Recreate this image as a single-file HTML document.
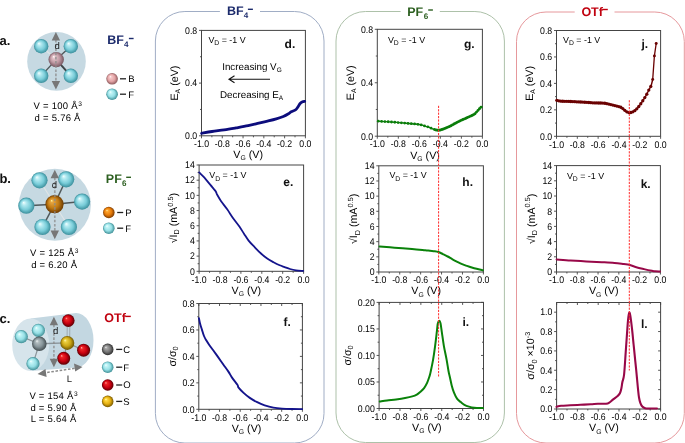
<!DOCTYPE html>
<html><head><meta charset="utf-8"><title>figure</title>
<style>html,body{margin:0;padding:0;background:#fff;overflow:hidden}svg{display:block;font-family:"Liberation Sans", sans-serif;-webkit-font-smoothing:antialiased;will-change:transform;text-rendering:geometricPrecision}</style>
</head><body>
<svg width="685" height="443" viewBox="0 0 685 443">
<defs><radialGradient id="gF" cx="0.5" cy="0.5" r="0.5" fx="0.33" fy="0.3"><stop offset="0" stop-color="#f4ffff"/><stop offset="0.25" stop-color="#b4eaf1"/><stop offset="0.65" stop-color="#78ccd8"/><stop offset="1" stop-color="#3a8e9b"/></radialGradient><radialGradient id="gFl" cx="0.5" cy="0.5" r="0.5" fx="0.33" fy="0.3"><stop offset="0" stop-color="#ffffff"/><stop offset="0.18" stop-color="#c6f6f8"/><stop offset="0.62" stop-color="#95dfe5"/><stop offset="1" stop-color="#3f8f96"/></radialGradient><radialGradient id="gB" cx="0.5" cy="0.5" r="0.5" fx="0.33" fy="0.3"><stop offset="0" stop-color="#fff8fa"/><stop offset="0.2" stop-color="#e4c4ca"/><stop offset="0.6" stop-color="#be98a2"/><stop offset="1" stop-color="#765660"/></radialGradient><radialGradient id="gBl" cx="0.5" cy="0.5" r="0.5" fx="0.33" fy="0.3"><stop offset="0" stop-color="#ffffff"/><stop offset="0.18" stop-color="#f6caca"/><stop offset="0.62" stop-color="#e3a3a5"/><stop offset="1" stop-color="#8d5a5c"/></radialGradient><radialGradient id="gP" cx="0.5" cy="0.5" r="0.5" fx="0.33" fy="0.3"><stop offset="0" stop-color="#fff6a0"/><stop offset="0.15" stop-color="#e6a640"/><stop offset="0.6" stop-color="#c27a12"/><stop offset="1" stop-color="#6e3c02"/></radialGradient><radialGradient id="gPl" cx="0.5" cy="0.5" r="0.5" fx="0.33" fy="0.3"><stop offset="0" stop-color="#fff2b0"/><stop offset="0.18" stop-color="#ffa830"/><stop offset="0.62" stop-color="#e67a08"/><stop offset="1" stop-color="#7a3a00"/></radialGradient><radialGradient id="gC" cx="0.5" cy="0.5" r="0.5" fx="0.33" fy="0.3"><stop offset="0" stop-color="#f4f8f8"/><stop offset="0.2" stop-color="#b2bcbf"/><stop offset="0.6" stop-color="#87959a"/><stop offset="1" stop-color="#434c4f"/></radialGradient><radialGradient id="gCl" cx="0.5" cy="0.5" r="0.5" fx="0.33" fy="0.3"><stop offset="0" stop-color="#f0f0f0"/><stop offset="0.2" stop-color="#a8a8a8"/><stop offset="0.62" stop-color="#767676"/><stop offset="1" stop-color="#2e2e2e"/></radialGradient><radialGradient id="gO" cx="0.5" cy="0.5" r="0.5" fx="0.33" fy="0.3"><stop offset="0" stop-color="#ffb8b8"/><stop offset="0.18" stop-color="#f02828"/><stop offset="0.62" stop-color="#c80010"/><stop offset="1" stop-color="#5a0004"/></radialGradient><radialGradient id="gS" cx="0.5" cy="0.5" r="0.5" fx="0.33" fy="0.3"><stop offset="0" stop-color="#fffbc0"/><stop offset="0.2" stop-color="#ecd040"/><stop offset="0.62" stop-color="#caa514"/><stop offset="1" stop-color="#6e5600"/></radialGradient><radialGradient id="gSl" cx="0.5" cy="0.5" r="0.5" fx="0.33" fy="0.3"><stop offset="0" stop-color="#fffbd0"/><stop offset="0.2" stop-color="#ffd840"/><stop offset="0.62" stop-color="#e4ae10"/><stop offset="1" stop-color="#7a5a00"/></radialGradient></defs>
<rect width="685" height="443" fill="#fff"/>
<path d="M219.9 11.5 H184.9 A29.5 29.5 0 0 0 155.4 41 V413.5 A29.5 29.5 0 0 0 184.9 443 H294.5 A29.5 29.5 0 0 0 324 413.5 V41 A29.5 29.5 0 0 0 294.5 11.5 H260" fill="none" stroke="#a0adc5" stroke-width="1"/>
<path d="M400.6 11.5 H365.5 A29.5 29.5 0 0 0 336 41 V413 A29.5 29.5 0 0 0 365.5 442.5 H474.9 A29.5 29.5 0 0 0 504.4 413 V41 A29.5 29.5 0 0 0 474.9 11.5 H439.8" fill="none" stroke="#adc1a9" stroke-width="1"/>
<path d="M574.7 12 H546 A29.5 29.5 0 0 0 516.5 41.5 V413.5 A29.5 29.5 0 0 0 546 443 H654.8 A29.5 29.5 0 0 0 684.3 413.5 V41.5 A29.5 29.5 0 0 0 654.8 12 H614.5" fill="none" stroke="#e6989c" stroke-width="1"/>
<text x="226.9" y="15.4" font-size="12.5" font-weight="bold" fill="#1c2b6c">BF</text><text x="243.7" y="18.1" font-size="8.1" font-weight="bold" fill="#1c2b6c">4</text><rect x="247.9" y="8.6" width="5" height="1.4" fill="#1c2b6c"/>
<text x="407.2" y="16" font-size="12.5" font-weight="bold" fill="#2c5f20">PF</text><text x="423.7" y="19.2" font-size="8.1" font-weight="bold" fill="#2c5f20">6</text><rect x="428.2" y="9.3" width="4.7" height="1.4" fill="#2c5f20"/>
<text x="581.4" y="15.7" font-size="12.5" font-weight="bold" fill="#c0000e">OTf</text><rect x="602.2" y="8.8" width="5.6" height="1.4" fill="#c0000e"/>
<circle cx="56.5" cy="61.4" r="29.3" fill="#c6d9e2"/>
<line x1="56.2" y1="59.6" x2="41.2" y2="46.2" stroke="#dfe4e6" stroke-width="1.4"/>
<line x1="56.2" y1="59.6" x2="70.8" y2="46.2" stroke="#4f5759" stroke-width="1.3"/>
<line x1="56.2" y1="59.6" x2="41.2" y2="75.8" stroke="#4f5759" stroke-width="1.3"/>
<line x1="56.2" y1="59.6" x2="70.8" y2="75.8" stroke="#3e4547" stroke-width="2.0"/>
<circle cx="41.2" cy="46.2" r="7.2" fill="url(#gF)"/>
<circle cx="70.8" cy="46.2" r="7.2" fill="url(#gF)"/>
<circle cx="56.2" cy="59.6" r="7.7" fill="url(#gB)"/>
<circle cx="41.2" cy="75.8" r="7.2" fill="url(#gF)"/>
<circle cx="70.8" cy="75.8" r="7.2" fill="url(#gF)"/>
<line x1="55.9" y1="40" x2="55.9" y2="81.5" stroke="#8c8c8c" stroke-width="1.7" stroke-dasharray="2.6 1.6" opacity="0.75"/><path d="M55.9 32L51.7 40.6L60.1 40.6Z M55.9 89.5L51.7 80.9L60.1 80.9Z" fill="#777"/>
<text x="54.6" y="49.4" font-size="9.6" fill="#1a1a1a">d</text>
<circle cx="54.9" cy="204.7" r="36" fill="#c6d9e2"/>
<line x1="54.5" y1="204.2" x2="39.5" y2="180.3" stroke="#dfe4e6" stroke-width="1.2"/>
<line x1="54.5" y1="204.2" x2="66.2" y2="179.3" stroke="#4f5759" stroke-width="1.5"/>
<line x1="54.5" y1="204.2" x2="26.3" y2="205.7" stroke="#4f5759" stroke-width="1.5"/>
<line x1="54.5" y1="204.2" x2="82.1" y2="201.6" stroke="#4f5759" stroke-width="1.5"/>
<line x1="54.5" y1="204.2" x2="42.5" y2="227" stroke="#4f5759" stroke-width="1.5"/>
<line x1="54.5" y1="204.2" x2="68.9" y2="227" stroke="#dfe4e6" stroke-width="1.2"/>
<circle cx="39.5" cy="180.3" r="8.1" fill="url(#gF)"/>
<circle cx="66.2" cy="179.3" r="8.1" fill="url(#gF)"/>
<circle cx="26.3" cy="205.7" r="8.1" fill="url(#gF)"/>
<circle cx="82.1" cy="201.6" r="8.1" fill="url(#gF)"/>
<circle cx="42.5" cy="227" r="8.1" fill="url(#gF)"/>
<circle cx="68.9" cy="227" r="8.1" fill="url(#gF)"/>
<circle cx="54.5" cy="204.2" r="9.1" fill="url(#gP)"/>
<line x1="54.8" y1="177.7" x2="54.8" y2="231.2" stroke="#8c8c8c" stroke-width="1.7" stroke-dasharray="2.6 1.6" opacity="0.75"/><path d="M54.8 169.7L50.6 178.3L59 178.3Z M54.8 239.2L50.6 230.6L59 230.6Z" fill="#777"/>
<text x="51.8" y="187.7" font-size="9.6" fill="#1a1a1a">d</text>
<path d="M30.7 318.5 L76 313 A17.5 27.3 0 0 1 76 367.6 L30.7 370.9 Z" fill="#c3d7e1"/>
<ellipse cx="30.7" cy="344.7" rx="18.5" ry="26.2" fill="#d6e4eb"/>
<line x1="39.3" y1="343.8" x2="38.4" y2="330.3" stroke="#8a9499" stroke-width="1.2"/>
<line x1="39.3" y1="343.8" x2="21.3" y2="336.6" stroke="#8a9499" stroke-width="1.2"/>
<line x1="39.3" y1="343.8" x2="33" y2="363.7" stroke="#8a9499" stroke-width="1.2"/>
<line x1="39.3" y1="343.8" x2="67.3" y2="342.9" stroke="#8a9499" stroke-width="1.4"/>
<line x1="67" y1="342.9" x2="67.3" y2="320.6" stroke="#9aa4a8" stroke-width="0.9"/>
<line x1="69.6" y1="342.9" x2="69.9" y2="320.6" stroke="#9aa4a8" stroke-width="0.9"/>
<line x1="67.3" y1="342.9" x2="83.6" y2="350.2" stroke="#8a9499" stroke-width="1.2"/>
<line x1="67.3" y1="342.9" x2="63.7" y2="358.3" stroke="#8a9499" stroke-width="1.2"/>
<circle cx="68.3" cy="320.6" r="6.3" fill="url(#gO)"/>
<circle cx="38.4" cy="330.3" r="6.6" fill="url(#gFl)"/>
<circle cx="21.3" cy="336.6" r="6.6" fill="url(#gFl)"/>
<circle cx="39.3" cy="343.8" r="7.3" fill="url(#gC)"/>
<circle cx="67.3" cy="342.9" r="7" fill="url(#gS)"/>
<circle cx="83.6" cy="350.2" r="6.5" fill="url(#gO)"/>
<circle cx="63.7" cy="358.3" r="6.5" fill="url(#gO)"/>
<circle cx="33" cy="363.7" r="6.6" fill="url(#gFl)"/>
<line x1="53.9" y1="324.7" x2="53.9" y2="359.3" stroke="#8c8c8c" stroke-width="1.7" stroke-dasharray="2.6 1.6" opacity="0.75"/><path d="M53.9 316.7L49.7 325.3L58.1 325.3Z M53.9 367.3L49.7 358.7L58.1 358.7Z" fill="#777"/>
<text x="53.0" y="333.7" font-size="9.6" fill="#1a1a1a">d</text>
<line x1="43" y1="373" x2="77" y2="368" stroke="#8c8c8c" stroke-width="1.5" stroke-dasharray="2.6 1.6"/>
<path d="M37.5 374 L45.5 369 L46.6 377 Z M82.5 367 L74 363.6 L75.2 371.6 Z" fill="#777"/>
<text x="69.3" y="381.8" font-size="9.5" fill="#1a1a1a" text-anchor="middle">L</text>
<g font-size="13" font-weight="bold" fill="#111"><text x="-0.6" y="44.5">a.</text><text x="-0.6" y="182.9">b.</text><text x="-0.6" y="322.5">c.</text></g>
<text x="107.3" y="44.3" font-size="12.5" font-weight="bold" fill="#1c2b6c">BF</text><text x="124" y="47.2" font-size="8.1" font-weight="bold" fill="#1c2b6c">4</text><rect x="128.9" y="37.8" width="4.7" height="1.4" fill="#1c2b6c"/>
<text x="105.8" y="182.8" font-size="12.5" font-weight="bold" fill="#2c5f20">PF</text><text x="121.9" y="186" font-size="8.1" font-weight="bold" fill="#2c5f20">6</text><rect x="126.2" y="176.6" width="4.8" height="1.4" fill="#2c5f20"/>
<text x="104.3" y="322.4" font-size="12.5" font-weight="bold" fill="#c0000e">OTf</text><rect x="125.3" y="315.7" width="5.5" height="1.4" fill="#c0000e"/>
<circle cx="112.1" cy="78.8" r="5.8" fill="url(#gBl)"/><line x1="120" y1="78.8" x2="126" y2="78.8" stroke="#222" stroke-width="1.3"/><text x="128.2" y="82.2" font-size="9.5" fill="#000">B</text>
<circle cx="112.1" cy="94.2" r="5.8" fill="url(#gFl)"/><line x1="120" y1="94.2" x2="126" y2="94.2" stroke="#222" stroke-width="1.3"/><text x="128.2" y="97.6" font-size="9.5" fill="#000">F</text>
<circle cx="108.8" cy="212.5" r="5.8" fill="url(#gPl)"/><line x1="117.2" y1="212.5" x2="123.2" y2="212.5" stroke="#222" stroke-width="1.3"/><text x="125.2" y="215.9" font-size="9.5" fill="#000">P</text>
<circle cx="108.8" cy="228.2" r="5.8" fill="url(#gFl)"/><line x1="117.2" y1="228.2" x2="123.2" y2="228.2" stroke="#222" stroke-width="1.3"/><text x="125.2" y="231.6" font-size="9.5" fill="#000">F</text>
<circle cx="107.7" cy="349.4" r="5.8" fill="url(#gCl)"/><line x1="116.2" y1="349.4" x2="122.2" y2="349.4" stroke="#222" stroke-width="1.3"/><text x="123.3" y="352.8" font-size="9.5" fill="#000">C</text>
<circle cx="107.7" cy="367.2" r="5.8" fill="url(#gFl)"/><line x1="116.2" y1="367.2" x2="122.2" y2="367.2" stroke="#222" stroke-width="1.3"/><text x="123.3" y="370.6" font-size="9.5" fill="#000">F</text>
<circle cx="107.7" cy="385" r="5.8" fill="url(#gO)"/><line x1="116.2" y1="385" x2="122.2" y2="385" stroke="#222" stroke-width="1.3"/><text x="123.3" y="388.4" font-size="9.5" fill="#000">O</text>
<circle cx="107.7" cy="401.4" r="5.8" fill="url(#gSl)"/><line x1="116.2" y1="401.4" x2="122.2" y2="401.4" stroke="#222" stroke-width="1.3"/><text x="123.3" y="404.8" font-size="9.5" fill="#000">S</text>
<text x="33.6" y="108.8" font-size="9.5" letter-spacing="0.25" fill="#000">V = 100 Å<tspan font-size="6.6" dx="0.4" dy="-3.1">3</tspan></text>
<text x="34.6" y="120.5" font-size="9.5" letter-spacing="0.25" fill="#000">d = 5.76 Å</text>
<text x="30.1" y="256.4" font-size="9.5" letter-spacing="0.25" fill="#000">V = 125 Å<tspan font-size="6.6" dx="0.4" dy="-3.1">3</tspan></text>
<text x="31.2" y="268.1" font-size="9.5" letter-spacing="0.25" fill="#000">d = 6.20 Å</text>
<text x="29.4" y="398.8" font-size="9.5" letter-spacing="0.25" fill="#000">V = 154 Å<tspan font-size="6.6" dx="0.4" dy="-3.1">3</tspan></text>
<text x="30.4" y="410.5" font-size="9.5" letter-spacing="0.25" fill="#000">d = 5.90 Å</text>
<text x="30.8" y="422.3" font-size="9.5" letter-spacing="0.25" fill="#000">L = 5.64 Å</text>
<rect x="201.5" y="30.4" width="103.9" height="105.4" fill="none" stroke="#444" stroke-width="1"/>
<path d="M201.5 135.8v2.5M211.89 135.8v1.5M222.28 135.8v2.5M232.67 135.8v1.5M243.06 135.8v2.5M253.45 135.8v1.5M263.84 135.8v2.5M274.23 135.8v1.5M284.62 135.8v2.5M295.01 135.8v1.5M305.4 135.8v2.5M201.5 135.8h-2.5M201.5 83.1h-2.5M201.5 30.4h-2.5M201.5 109.45h-1.5M201.5 56.75h-1.5" stroke="#444" stroke-width="0.9" fill="none"/>
<g font-size="9.7" fill="#000">
<text transform="translate(201.5,147) scale(0.9,1)" text-anchor="middle">-1.0</text>
<text transform="translate(222.28,147) scale(0.9,1)" text-anchor="middle">-0.8</text>
<text transform="translate(243.06,147) scale(0.9,1)" text-anchor="middle">-0.6</text>
<text transform="translate(263.84,147) scale(0.9,1)" text-anchor="middle">-0.4</text>
<text transform="translate(284.62,147) scale(0.9,1)" text-anchor="middle">-0.2</text>
<text transform="translate(305.4,147) scale(0.9,1)" text-anchor="middle">0.0</text>
<text transform="translate(197.2,139.1) scale(0.9,1)" text-anchor="end">0.0</text>
<text transform="translate(197.2,86.4) scale(0.9,1)" text-anchor="end">0.4</text>
<text transform="translate(197.2,33.7) scale(0.9,1)" text-anchor="end">0.8</text>
</g>
<text x="233.3" y="158" font-size="10.7" fill="#000">V<tspan font-size="6.8" dy="2.4">G</tspan><tspan dy="-2.4"> (V)</tspan></text>
<text transform="translate(177.8,83.1) rotate(-90)" text-anchor="middle" font-size="10.7" fill="#000">E<tspan font-size="6.8" dy="2.4">A</tspan><tspan dy="-2.4"> (eV)</tspan></text>
<text x="208.4" y="42.8" font-size="8.9" fill="#000">V<tspan font-size="6.8" dy="2.4">D</tspan><tspan dy="-2.4"> = -1 V</tspan></text>
<text x="284.6" y="47.9" font-size="12" font-weight="bold" fill="#111">d.</text>
<rect x="199.1" y="165" width="104.5" height="106.3" fill="none" stroke="#444" stroke-width="1"/>
<path d="M199.1 271.3v2.5M209.55 271.3v1.5M220 271.3v2.5M230.45 271.3v1.5M240.9 271.3v2.5M251.35 271.3v1.5M261.8 271.3v2.5M272.25 271.3v1.5M282.7 271.3v2.5M293.15 271.3v1.5M303.6 271.3v2.5M199.1 271.3h-2.5M199.1 256.11h-2.5M199.1 240.93h-2.5M199.1 225.74h-2.5M199.1 210.56h-2.5M199.1 195.37h-2.5M199.1 180.19h-2.5M199.1 165h-2.5M199.1 263.71h-1.5M199.1 248.52h-1.5M199.1 233.34h-1.5M199.1 218.15h-1.5M199.1 202.96h-1.5M199.1 187.78h-1.5M199.1 172.59h-1.5" stroke="#444" stroke-width="0.9" fill="none"/>
<g font-size="9.7" fill="#000">
<text transform="translate(199.1,282.5) scale(0.9,1)" text-anchor="middle">-1.0</text>
<text transform="translate(220,282.5) scale(0.9,1)" text-anchor="middle">-0.8</text>
<text transform="translate(240.9,282.5) scale(0.9,1)" text-anchor="middle">-0.6</text>
<text transform="translate(261.8,282.5) scale(0.9,1)" text-anchor="middle">-0.4</text>
<text transform="translate(282.7,282.5) scale(0.9,1)" text-anchor="middle">-0.2</text>
<text transform="translate(303.6,282.5) scale(0.9,1)" text-anchor="middle">0.0</text>
<text transform="translate(194.8,274.6) scale(0.9,1)" text-anchor="end">0</text>
<text transform="translate(194.8,259.41) scale(0.9,1)" text-anchor="end">2</text>
<text transform="translate(194.8,244.23) scale(0.9,1)" text-anchor="end">4</text>
<text transform="translate(194.8,229.04) scale(0.9,1)" text-anchor="end">6</text>
<text transform="translate(194.8,213.86) scale(0.9,1)" text-anchor="end">8</text>
<text transform="translate(194.8,198.67) scale(0.9,1)" text-anchor="end">10</text>
<text transform="translate(194.8,183.49) scale(0.9,1)" text-anchor="end">12</text>
<text transform="translate(194.8,168.3) scale(0.9,1)" text-anchor="end">14</text>
</g>
<text x="231.5" y="294" font-size="10.7" fill="#000">V<tspan font-size="6.8" dy="2.4">G</tspan><tspan dy="-2.4"> (V)</tspan></text>
<text transform="translate(176.8,218.15) rotate(-90)" text-anchor="middle" font-size="10.7" fill="#000">√I<tspan font-size="7.2" dy="2.5">D</tspan><tspan dy="-2.5"> (mA</tspan><tspan font-size="7.4" dy="-4.2">0.5</tspan><tspan dy="4.2">)</tspan></text>
<text x="209.3" y="178.2" font-size="8.9" fill="#000">V<tspan font-size="6.8" dy="2.4">D</tspan><tspan dy="-2.4"> = -1 V</tspan></text>
<text x="283.3" y="186" font-size="12" font-weight="bold" fill="#111">e.</text>
<rect x="198.8" y="303.5" width="103.6" height="105.8" fill="none" stroke="#444" stroke-width="1"/>
<path d="M198.8 409.3v2.5M198.8 303.5v2.5M209.16 409.3v1.5M209.16 303.5v1.5M219.52 409.3v2.5M219.52 303.5v2.5M229.88 409.3v1.5M229.88 303.5v1.5M240.24 409.3v2.5M240.24 303.5v2.5M250.6 409.3v1.5M250.6 303.5v1.5M260.96 409.3v2.5M260.96 303.5v2.5M271.32 409.3v1.5M271.32 303.5v1.5M281.68 409.3v2.5M281.68 303.5v2.5M292.04 409.3v1.5M292.04 303.5v1.5M302.4 409.3v2.5M302.4 303.5v2.5M198.8 409.3h-2.5M302.4 409.3h-2.5M198.8 382.85h-2.5M302.4 382.85h-2.5M198.8 356.4h-2.5M302.4 356.4h-2.5M198.8 329.95h-2.5M302.4 329.95h-2.5M198.8 303.5h-2.5M302.4 303.5h-2.5M198.8 396.07h-1.5M302.4 396.07h-1.5M198.8 369.62h-1.5M302.4 369.62h-1.5M198.8 343.18h-1.5M302.4 343.18h-1.5M198.8 316.73h-1.5M302.4 316.73h-1.5" stroke="#444" stroke-width="0.9" fill="none"/>
<g font-size="9.7" fill="#000">
<text transform="translate(198.8,420.5) scale(0.9,1)" text-anchor="middle">-1.0</text>
<text transform="translate(219.52,420.5) scale(0.9,1)" text-anchor="middle">-0.8</text>
<text transform="translate(240.24,420.5) scale(0.9,1)" text-anchor="middle">-0.6</text>
<text transform="translate(260.96,420.5) scale(0.9,1)" text-anchor="middle">-0.4</text>
<text transform="translate(281.68,420.5) scale(0.9,1)" text-anchor="middle">-0.2</text>
<text transform="translate(302.4,420.5) scale(0.9,1)" text-anchor="middle">0.0</text>
<text transform="translate(194.5,412.6) scale(0.9,1)" text-anchor="end">0.0</text>
<text transform="translate(194.5,386.15) scale(0.9,1)" text-anchor="end">0.2</text>
<text transform="translate(194.5,359.7) scale(0.9,1)" text-anchor="end">0.4</text>
<text transform="translate(194.5,333.25) scale(0.9,1)" text-anchor="end">0.6</text>
<text transform="translate(194.5,306.8) scale(0.9,1)" text-anchor="end">0.8</text>
</g>
<text x="231.7" y="431.8" font-size="10.7" fill="#000">V<tspan font-size="6.8" dy="2.4">G</tspan><tspan dy="-2.4"> (V)</tspan></text>
<text transform="translate(175.5,356.4) rotate(-90)" text-anchor="middle" font-size="10.7" fill="#000">σ/σ<tspan font-size="7.4" dy="2.6">0</tspan></text>
<text x="283.6" y="325.9" font-size="12" font-weight="bold" fill="#111">f.</text>
<rect x="377.3" y="29.3" width="105.1" height="106.9" fill="none" stroke="#444" stroke-width="1"/>
<path d="M377.3 136.2v2.5M387.81 136.2v1.5M398.32 136.2v2.5M408.83 136.2v1.5M419.34 136.2v2.5M429.85 136.2v1.5M440.36 136.2v2.5M450.87 136.2v1.5M461.38 136.2v2.5M471.89 136.2v1.5M482.4 136.2v2.5M377.3 136.2h-2.5M377.3 82.75h-2.5M377.3 29.3h-2.5M377.3 109.47h-1.5M377.3 56.03h-1.5" stroke="#444" stroke-width="0.9" fill="none"/>
<g font-size="9.7" fill="#000">
<text transform="translate(377.3,147.4) scale(0.9,1)" text-anchor="middle">-1.0</text>
<text transform="translate(398.32,147.4) scale(0.9,1)" text-anchor="middle">-0.8</text>
<text transform="translate(419.34,147.4) scale(0.9,1)" text-anchor="middle">-0.6</text>
<text transform="translate(440.36,147.4) scale(0.9,1)" text-anchor="middle">-0.4</text>
<text transform="translate(461.38,147.4) scale(0.9,1)" text-anchor="middle">-0.2</text>
<text transform="translate(482.4,147.4) scale(0.9,1)" text-anchor="middle">0.0</text>
<text transform="translate(373,139.5) scale(0.9,1)" text-anchor="end">0.0</text>
<text transform="translate(373,86.05) scale(0.9,1)" text-anchor="end">0.4</text>
<text transform="translate(373,32.6) scale(0.9,1)" text-anchor="end">0.8</text>
</g>
<text x="410.2" y="159" font-size="10.7" fill="#000">V<tspan font-size="6.8" dy="2.4">G</tspan><tspan dy="-2.4"> (V)</tspan></text>
<text transform="translate(353.5,82.75) rotate(-90)" text-anchor="middle" font-size="10.7" fill="#000">E<tspan font-size="6.8" dy="2.4">A</tspan><tspan dy="-2.4"> (eV)</tspan></text>
<text x="387.9" y="42.6" font-size="8.9" fill="#000">V<tspan font-size="6.8" dy="2.4">D</tspan><tspan dy="-2.4"> = -1 V</tspan></text>
<text x="464" y="47.5" font-size="12" font-weight="bold" fill="#111">g.</text>
<rect x="378.8" y="165.8" width="104.6" height="106.2" fill="none" stroke="#444" stroke-width="1"/>
<path d="M378.8 272v2.5M389.26 272v1.5M399.72 272v2.5M410.18 272v1.5M420.64 272v2.5M431.1 272v1.5M441.56 272v2.5M452.02 272v1.5M462.48 272v2.5M472.94 272v1.5M483.4 272v2.5M378.8 272h-2.5M378.8 256.83h-2.5M378.8 241.66h-2.5M378.8 226.49h-2.5M378.8 211.31h-2.5M378.8 196.14h-2.5M378.8 180.97h-2.5M378.8 165.8h-2.5M378.8 264.41h-1.5M378.8 249.24h-1.5M378.8 234.07h-1.5M378.8 218.9h-1.5M378.8 203.73h-1.5M378.8 188.56h-1.5M378.8 173.39h-1.5" stroke="#444" stroke-width="0.9" fill="none"/>
<g font-size="9.7" fill="#000">
<text transform="translate(378.8,283.2) scale(0.9,1)" text-anchor="middle">-1.0</text>
<text transform="translate(399.72,283.2) scale(0.9,1)" text-anchor="middle">-0.8</text>
<text transform="translate(420.64,283.2) scale(0.9,1)" text-anchor="middle">-0.6</text>
<text transform="translate(441.56,283.2) scale(0.9,1)" text-anchor="middle">-0.4</text>
<text transform="translate(462.48,283.2) scale(0.9,1)" text-anchor="middle">-0.2</text>
<text transform="translate(483.4,283.2) scale(0.9,1)" text-anchor="middle">0.0</text>
<text transform="translate(374.5,275.3) scale(0.9,1)" text-anchor="end">0</text>
<text transform="translate(374.5,260.13) scale(0.9,1)" text-anchor="end">2</text>
<text transform="translate(374.5,244.96) scale(0.9,1)" text-anchor="end">4</text>
<text transform="translate(374.5,229.79) scale(0.9,1)" text-anchor="end">6</text>
<text transform="translate(374.5,214.61) scale(0.9,1)" text-anchor="end">8</text>
<text transform="translate(374.5,199.44) scale(0.9,1)" text-anchor="end">10</text>
<text transform="translate(374.5,184.27) scale(0.9,1)" text-anchor="end">12</text>
<text transform="translate(374.5,169.1) scale(0.9,1)" text-anchor="end">14</text>
</g>
<text x="411.3" y="294.3" font-size="10.7" fill="#000">V<tspan font-size="6.8" dy="2.4">G</tspan><tspan dy="-2.4"> (V)</tspan></text>
<text transform="translate(357.3,218.9) rotate(-90)" text-anchor="middle" font-size="10.7" fill="#000">√I<tspan font-size="7.2" dy="2.5">D</tspan><tspan dy="-2.5"> (mA</tspan><tspan font-size="7.4" dy="-4.2">0.5</tspan><tspan dy="4.2">)</tspan></text>
<text x="389.4" y="178.2" font-size="8.9" fill="#000">V<tspan font-size="6.8" dy="2.4">D</tspan><tspan dy="-2.4"> = -1 V</tspan></text>
<text x="462.3" y="185.5" font-size="12" font-weight="bold" fill="#111">h.</text>
<rect x="379.1" y="302.4" width="104.4" height="106.1" fill="none" stroke="#444" stroke-width="1"/>
<path d="M379.1 408.5v2.5M379.1 302.4v2.5M389.54 408.5v1.5M389.54 302.4v1.5M399.98 408.5v2.5M399.98 302.4v2.5M410.42 408.5v1.5M410.42 302.4v1.5M420.86 408.5v2.5M420.86 302.4v2.5M431.3 408.5v1.5M431.3 302.4v1.5M441.74 408.5v2.5M441.74 302.4v2.5M452.18 408.5v1.5M452.18 302.4v1.5M462.62 408.5v2.5M462.62 302.4v2.5M473.06 408.5v1.5M473.06 302.4v1.5M483.5 408.5v2.5M483.5 302.4v2.5M379.1 408.5h-2.5M483.5 408.5h-2.5M379.1 381.98h-2.5M483.5 381.98h-2.5M379.1 355.45h-2.5M483.5 355.45h-2.5M379.1 328.93h-2.5M483.5 328.93h-2.5M379.1 302.4h-2.5M483.5 302.4h-2.5M379.1 395.24h-1.5M483.5 395.24h-1.5M379.1 368.71h-1.5M483.5 368.71h-1.5M379.1 342.19h-1.5M483.5 342.19h-1.5M379.1 315.66h-1.5M483.5 315.66h-1.5" stroke="#444" stroke-width="0.9" fill="none"/>
<g font-size="9.7" fill="#000">
<text transform="translate(379.1,419.7) scale(0.9,1)" text-anchor="middle">-1.0</text>
<text transform="translate(399.98,419.7) scale(0.9,1)" text-anchor="middle">-0.8</text>
<text transform="translate(420.86,419.7) scale(0.9,1)" text-anchor="middle">-0.6</text>
<text transform="translate(441.74,419.7) scale(0.9,1)" text-anchor="middle">-0.4</text>
<text transform="translate(462.62,419.7) scale(0.9,1)" text-anchor="middle">-0.2</text>
<text transform="translate(483.5,419.7) scale(0.9,1)" text-anchor="middle">0.0</text>
<text transform="translate(374.8,411.8) scale(0.9,1)" text-anchor="end">0.00</text>
<text transform="translate(374.8,385.28) scale(0.9,1)" text-anchor="end">0.05</text>
<text transform="translate(374.8,358.75) scale(0.9,1)" text-anchor="end">0.10</text>
<text transform="translate(374.8,332.23) scale(0.9,1)" text-anchor="end">0.15</text>
<text transform="translate(374.8,305.7) scale(0.9,1)" text-anchor="end">0.20</text>
</g>
<text x="412" y="431" font-size="10.7" fill="#000">V<tspan font-size="6.8" dy="2.4">G</tspan><tspan dy="-2.4"> (V)</tspan></text>
<text transform="translate(350.8,355.45) rotate(-90)" text-anchor="middle" font-size="10.7" fill="#000">σ/σ<tspan font-size="7.4" dy="2.6">0</tspan></text>
<text x="462.5" y="325.5" font-size="12" font-weight="bold" fill="#111">i.</text>
<rect x="556.5" y="30.5" width="104.1" height="105.8" fill="none" stroke="#444" stroke-width="1"/>
<path d="M556.5 136.3v2.5M566.91 136.3v1.5M577.32 136.3v2.5M587.73 136.3v1.5M598.14 136.3v2.5M608.55 136.3v1.5M618.96 136.3v2.5M629.37 136.3v1.5M639.78 136.3v2.5M650.19 136.3v1.5M660.6 136.3v2.5M556.5 136.3h-2.5M556.5 109.85h-2.5M556.5 83.4h-2.5M556.5 56.95h-2.5M556.5 30.5h-2.5M556.5 123.08h-1.5M556.5 96.63h-1.5M556.5 70.18h-1.5M556.5 43.73h-1.5" stroke="#444" stroke-width="0.9" fill="none"/>
<g font-size="9.7" fill="#000">
<text transform="translate(556.5,147.5) scale(0.9,1)" text-anchor="middle">-1.0</text>
<text transform="translate(577.32,147.5) scale(0.9,1)" text-anchor="middle">-0.8</text>
<text transform="translate(598.14,147.5) scale(0.9,1)" text-anchor="middle">-0.6</text>
<text transform="translate(618.96,147.5) scale(0.9,1)" text-anchor="middle">-0.4</text>
<text transform="translate(639.78,147.5) scale(0.9,1)" text-anchor="middle">-0.2</text>
<text transform="translate(660.6,147.5) scale(0.9,1)" text-anchor="middle">0.0</text>
<text transform="translate(552.2,139.6) scale(0.9,1)" text-anchor="end">0.0</text>
<text transform="translate(552.2,113.15) scale(0.9,1)" text-anchor="end">0.2</text>
<text transform="translate(552.2,86.7) scale(0.9,1)" text-anchor="end">0.4</text>
<text transform="translate(552.2,60.25) scale(0.9,1)" text-anchor="end">0.6</text>
<text transform="translate(552.2,33.8) scale(0.9,1)" text-anchor="end">0.8</text>
</g>
<text transform="translate(532.5,83.4) rotate(-90)" text-anchor="middle" font-size="10.7" fill="#000">E<tspan font-size="6.8" dy="2.4">A</tspan><tspan dy="-2.4"> (eV)</tspan></text>
<text x="563" y="42.8" font-size="8.9" fill="#000">V<tspan font-size="6.8" dy="2.4">D</tspan><tspan dy="-2.4"> = -1 V</tspan></text>
<text x="641.4" y="47.8" font-size="12" font-weight="bold" fill="#111">j.</text>
<rect x="556.5" y="165.6" width="103.9" height="106.4" fill="none" stroke="#444" stroke-width="1"/>
<path d="M556.5 272v2.5M566.89 272v1.5M577.28 272v2.5M587.67 272v1.5M598.06 272v2.5M608.45 272v1.5M618.84 272v2.5M629.23 272v1.5M639.62 272v2.5M650.01 272v1.5M660.4 272v2.5M556.5 272h-2.5M556.5 256.8h-2.5M556.5 241.6h-2.5M556.5 226.4h-2.5M556.5 211.2h-2.5M556.5 196h-2.5M556.5 180.8h-2.5M556.5 165.6h-2.5M556.5 264.4h-1.5M556.5 249.2h-1.5M556.5 234h-1.5M556.5 218.8h-1.5M556.5 203.6h-1.5M556.5 188.4h-1.5M556.5 173.2h-1.5" stroke="#444" stroke-width="0.9" fill="none"/>
<g font-size="9.7" fill="#000">
<text transform="translate(556.5,283.2) scale(0.9,1)" text-anchor="middle">-1.0</text>
<text transform="translate(577.28,283.2) scale(0.9,1)" text-anchor="middle">-0.8</text>
<text transform="translate(598.06,283.2) scale(0.9,1)" text-anchor="middle">-0.6</text>
<text transform="translate(618.84,283.2) scale(0.9,1)" text-anchor="middle">-0.4</text>
<text transform="translate(639.62,283.2) scale(0.9,1)" text-anchor="middle">-0.2</text>
<text transform="translate(660.4,283.2) scale(0.9,1)" text-anchor="middle">0.0</text>
<text transform="translate(552.2,275.3) scale(0.9,1)" text-anchor="end">0</text>
<text transform="translate(552.2,260.1) scale(0.9,1)" text-anchor="end">2</text>
<text transform="translate(552.2,244.9) scale(0.9,1)" text-anchor="end">4</text>
<text transform="translate(552.2,229.7) scale(0.9,1)" text-anchor="end">6</text>
<text transform="translate(552.2,214.5) scale(0.9,1)" text-anchor="end">8</text>
<text transform="translate(552.2,199.3) scale(0.9,1)" text-anchor="end">10</text>
<text transform="translate(552.2,184.1) scale(0.9,1)" text-anchor="end">12</text>
<text transform="translate(552.2,168.9) scale(0.9,1)" text-anchor="end">14</text>
</g>
<text x="588.9" y="294.2" font-size="10.7" fill="#000">V<tspan font-size="6.8" dy="2.4">G</tspan><tspan dy="-2.4"> (V)</tspan></text>
<text transform="translate(534.5,218.8) rotate(-90)" text-anchor="middle" font-size="10.7" fill="#000">√I<tspan font-size="7.2" dy="2.5">D</tspan><tspan dy="-2.5"> (mA</tspan><tspan font-size="7.4" dy="-4.2">0.5</tspan><tspan dy="4.2">)</tspan></text>
<text x="566.9" y="178.7" font-size="8.9" fill="#000">V<tspan font-size="6.8" dy="2.4">D</tspan><tspan dy="-2.4"> = -1 V</tspan></text>
<text x="640.7" y="187.9" font-size="12" font-weight="bold" fill="#111">k.</text>
<rect x="556.6" y="302.5" width="104" height="106.5" fill="none" stroke="#444" stroke-width="1"/>
<path d="M556.6 409v2.5M556.6 302.5v2.5M567 409v1.5M567 302.5v1.5M577.4 409v2.5M577.4 302.5v2.5M587.8 409v1.5M587.8 302.5v1.5M598.2 409v2.5M598.2 302.5v2.5M608.6 409v1.5M608.6 302.5v1.5M619 409v2.5M619 302.5v2.5M629.4 409v1.5M629.4 302.5v1.5M639.8 409v2.5M639.8 302.5v2.5M650.2 409v1.5M650.2 302.5v1.5M660.6 409v2.5M660.6 302.5v2.5M556.6 409h-2.5M660.6 409h-2.5M556.6 389.64h-2.5M660.6 389.64h-2.5M556.6 370.27h-2.5M660.6 370.27h-2.5M556.6 350.91h-2.5M660.6 350.91h-2.5M556.6 331.55h-2.5M660.6 331.55h-2.5M556.6 312.18h-2.5M660.6 312.18h-2.5M556.6 399.32h-1.5M660.6 399.32h-1.5M556.6 379.95h-1.5M660.6 379.95h-1.5M556.6 360.59h-1.5M660.6 360.59h-1.5M556.6 341.23h-1.5M660.6 341.23h-1.5M556.6 321.86h-1.5M660.6 321.86h-1.5" stroke="#444" stroke-width="0.9" fill="none"/>
<g font-size="9.7" fill="#000">
<text transform="translate(556.6,420.2) scale(0.9,1)" text-anchor="middle">-1.0</text>
<text transform="translate(577.4,420.2) scale(0.9,1)" text-anchor="middle">-0.8</text>
<text transform="translate(598.2,420.2) scale(0.9,1)" text-anchor="middle">-0.6</text>
<text transform="translate(619,420.2) scale(0.9,1)" text-anchor="middle">-0.4</text>
<text transform="translate(639.8,420.2) scale(0.9,1)" text-anchor="middle">-0.2</text>
<text transform="translate(660.6,420.2) scale(0.9,1)" text-anchor="middle">0.0</text>
<text transform="translate(552.3,412.3) scale(0.9,1)" text-anchor="end">0.0</text>
<text transform="translate(552.3,392.94) scale(0.9,1)" text-anchor="end">0.2</text>
<text transform="translate(552.3,373.57) scale(0.9,1)" text-anchor="end">0.4</text>
<text transform="translate(552.3,354.21) scale(0.9,1)" text-anchor="end">0.6</text>
<text transform="translate(552.3,334.85) scale(0.9,1)" text-anchor="end">0.8</text>
<text transform="translate(552.3,315.48) scale(0.9,1)" text-anchor="end">1.0</text>
</g>
<text x="589.1" y="431.2" font-size="10.7" fill="#000">V<tspan font-size="6.8" dy="2.4">G</tspan><tspan dy="-2.4"> (V)</tspan></text>
<text transform="translate(534.4,355.75) rotate(-90)" text-anchor="middle" font-size="10.7" fill="#000">σ/σ<tspan font-size="7.4" dy="2.6">0</tspan><tspan dy="-2.6"> ×10</tspan><tspan font-size="7.2" dy="-4.2">-3</tspan></text>
<text x="640.9" y="328" font-size="12" font-weight="bold" fill="#111">l.</text>
<path d="M201.6 133.3 C203.33 133 208.25 132.07 212 131.5 C215.75 130.93 220.08 130.5 224.1 129.9 C228.12 129.3 232.08 128.6 236.1 127.9 C240.12 127.2 244.42 126.48 248.2 125.7 C251.98 124.92 255.58 123.97 258.8 123.2 C262.02 122.43 264.58 121.83 267.5 121.1 C270.42 120.37 273.67 119.57 276.3 118.8 C278.93 118.03 281.27 117.33 283.3 116.5 C285.33 115.67 287.18 114.58 288.5 113.8 C289.82 113.02 290.03 112.45 291.2 111.8 C292.37 111.15 294.42 110.65 295.5 109.9 C296.58 109.15 296.97 108.32 297.7 107.3 C298.43 106.28 299.08 104.72 299.9 103.8 C300.72 102.88 301.8 102.22 302.6 101.8 C303.4 101.38 304.35 101.38 304.7 101.3" fill="none" stroke="#0c0c7c" stroke-width="2.8" stroke-linejoin="round" stroke-linecap="round"/>
<text x="222.2" y="69.8" font-size="9.8" fill="#000">Increasing V<tspan font-size="6.5" dy="2.2">G</tspan></text>
<text x="220" y="97.6" font-size="9.8" fill="#000">Decreasing E<tspan font-size="6.5" dy="2.2">A</tspan></text>
<path d="M229 79.3H270M234.5 75.8L229 79.3L234.5 82.8" fill="none" stroke="#111" stroke-width="1.1"/>
<path d="M199.2 172.4 C200.03 173.23 202.33 175.32 204.2 177.4 C206.07 179.48 208.57 182.7 210.4 184.9 C212.23 187.1 214.22 189.32 215.2 190.6 C216.18 191.88 215.97 191.9 216.3 192.6 C216.63 193.3 216.4 193.37 217.2 194.8 C218 196.23 219.43 198.78 221.1 201.2 C222.77 203.62 225.17 206.42 227.2 209.3 C229.23 212.18 231.27 215.62 233.3 218.5 C235.33 221.38 237.62 224.07 239.4 226.6 C241.18 229.13 242.47 231.37 244 233.7 C245.53 236.03 246.8 238.33 248.6 240.6 C250.4 242.87 252.73 245.15 254.8 247.3 C256.87 249.45 258.93 251.63 261 253.5 C263.07 255.37 265.12 257.05 267.2 258.5 C269.28 259.95 271.42 261.07 273.5 262.2 C275.58 263.33 277.85 264.48 279.7 265.3 C281.55 266.12 282.88 266.48 284.6 267.1 C286.32 267.72 288.1 268.47 290 269 C291.9 269.53 293.8 269.98 296 270.3 C298.2 270.62 302 270.8 303.2 270.9" fill="none" stroke="#14148c" stroke-width="1.8" stroke-linejoin="round" stroke-linecap="round"/>
<path d="M198.9 318.1 C199.1 319.03 199.58 321.73 200.1 323.7 C200.62 325.67 201.35 327.85 202 329.9 C202.65 331.95 203.32 334.3 204 336 C204.68 337.7 205.25 338.65 206.1 340.1 C206.95 341.55 207.92 343 209.1 344.7 C210.28 346.4 211.67 348.18 213.2 350.3 C214.73 352.42 216.62 355.03 218.3 357.4 C219.98 359.77 221.62 362.13 223.3 364.5 C224.98 366.87 226.92 369.37 228.4 371.6 C229.88 373.83 230.7 375.7 232.2 377.9 C233.7 380.1 236.33 383.18 237.4 384.8 C238.47 386.42 237.57 386.25 238.6 387.6 C239.63 388.95 241.73 391.18 243.6 392.9 C245.47 394.62 247.53 396.35 249.8 397.9 C252.07 399.45 254.72 400.97 257.2 402.2 C259.68 403.43 262 404.4 264.7 405.3 C267.4 406.2 270.52 407.05 273.4 407.6 C276.28 408.15 278.9 408.37 282 408.6 C285.1 408.83 288.63 408.92 292 409 C295.37 409.08 300.5 409.08 302.2 409.1" fill="none" stroke="#14148c" stroke-width="1.9" stroke-linejoin="round" stroke-linecap="round"/>
<path d="M377.9 121.2 C379.72 121.3 385.3 121.57 388.8 121.8 C392.3 122.03 395.55 122.32 398.9 122.6 C402.25 122.88 406.22 123.27 408.9 123.5 C411.58 123.73 413.3 123.83 415 124 C416.7 124.17 417.9 124.3 419.1 124.5 C420.3 124.7 421.1 124.9 422.2 125.2 C423.3 125.5 424.6 125.98 425.7 126.3 C426.8 126.62 427.68 126.68 428.8 127.1 C429.92 127.52 431.3 128.35 432.4 128.8 C433.5 129.25 434.38 129.55 435.4 129.8 C436.42 130.05 437.47 130.33 438.5 130.3 C439.53 130.27 440.4 129.97 441.6 129.6 C442.8 129.23 444.17 128.73 445.7 128.1 C447.23 127.47 449.1 126.65 450.8 125.8 C452.5 124.95 454.2 123.9 455.9 123 C457.6 122.1 459.3 121.2 461 120.4 C462.7 119.6 464.4 118.97 466.1 118.2 C467.8 117.43 469.83 116.45 471.2 115.8 C472.57 115.15 473.28 115.07 474.3 114.3 C475.32 113.53 476.28 112.3 477.3 111.2 C478.32 110.1 479.63 108.47 480.4 107.7 C481.17 106.93 481.65 106.78 481.9 106.6" fill="none" stroke="#0a7d0a" stroke-width="1.3" stroke-linejoin="round" stroke-linecap="round"/>
<circle cx="378.3" cy="121.22" r="1.4" fill="#0a7d0a"/><circle cx="381.6" cy="121.39" r="1.4" fill="#0a7d0a"/><circle cx="384.9" cy="121.57" r="1.4" fill="#0a7d0a"/><circle cx="388.2" cy="121.76" r="1.4" fill="#0a7d0a"/><circle cx="391.5" cy="121.99" r="1.4" fill="#0a7d0a"/><circle cx="394.8" cy="122.25" r="1.4" fill="#0a7d0a"/><circle cx="398.1" cy="122.53" r="1.4" fill="#0a7d0a"/><circle cx="401.4" cy="122.82" r="1.4" fill="#0a7d0a"/><circle cx="404.7" cy="123.12" r="1.4" fill="#0a7d0a"/><circle cx="408" cy="123.42" r="1.4" fill="#0a7d0a"/><circle cx="411.3" cy="123.7" r="1.4" fill="#0a7d0a"/><circle cx="414.6" cy="123.96" r="1.4" fill="#0a7d0a"/><circle cx="417.9" cy="124.32" r="1.4" fill="#0a7d0a"/><circle cx="421.2" cy="124.94" r="1.4" fill="#0a7d0a"/><circle cx="424.5" cy="125.92" r="1.4" fill="#0a7d0a"/><circle cx="427.8" cy="126.79" r="1.4" fill="#0a7d0a"/><circle cx="431.1" cy="128.19" r="1.4" fill="#0a7d0a"/><circle cx="434.4" cy="129.52" r="1.4" fill="#0a7d0a"/>
<circle cx="436" cy="129.95" r="1.45" fill="#0a7d0a"/><circle cx="437.5" cy="130.25" r="1.45" fill="#0a7d0a"/><circle cx="439" cy="130.26" r="1.45" fill="#0a7d0a"/><circle cx="440.5" cy="129.93" r="1.45" fill="#0a7d0a"/><circle cx="442" cy="129.47" r="1.45" fill="#0a7d0a"/><circle cx="443.5" cy="128.96" r="1.45" fill="#0a7d0a"/><circle cx="445" cy="128.38" r="1.45" fill="#0a7d0a"/><circle cx="446.5" cy="127.77" r="1.45" fill="#0a7d0a"/><circle cx="448" cy="127.11" r="1.45" fill="#0a7d0a"/><circle cx="449.5" cy="126.43" r="1.45" fill="#0a7d0a"/><circle cx="451" cy="125.7" r="1.45" fill="#0a7d0a"/><circle cx="452.5" cy="124.9" r="1.45" fill="#0a7d0a"/><circle cx="454" cy="124.05" r="1.45" fill="#0a7d0a"/><circle cx="455.5" cy="123.21" r="1.45" fill="#0a7d0a"/><circle cx="457" cy="122.42" r="1.45" fill="#0a7d0a"/><circle cx="458.5" cy="121.64" r="1.45" fill="#0a7d0a"/><circle cx="460" cy="120.88" r="1.45" fill="#0a7d0a"/><circle cx="461.5" cy="120.17" r="1.45" fill="#0a7d0a"/><circle cx="463" cy="119.52" r="1.45" fill="#0a7d0a"/><circle cx="464.5" cy="118.89" r="1.45" fill="#0a7d0a"/><circle cx="466" cy="118.24" r="1.45" fill="#0a7d0a"/><circle cx="467.5" cy="117.56" r="1.45" fill="#0a7d0a"/><circle cx="469" cy="116.85" r="1.45" fill="#0a7d0a"/><circle cx="470.5" cy="116.13" r="1.45" fill="#0a7d0a"/><circle cx="472" cy="115.45" r="1.45" fill="#0a7d0a"/><circle cx="473.5" cy="114.81" r="1.45" fill="#0a7d0a"/><circle cx="475" cy="113.7" r="1.45" fill="#0a7d0a"/><circle cx="476.5" cy="112.09" r="1.45" fill="#0a7d0a"/><circle cx="478" cy="110.42" r="1.45" fill="#0a7d0a"/><circle cx="479.5" cy="108.68" r="1.45" fill="#0a7d0a"/><circle cx="481" cy="107.17" r="1.45" fill="#0a7d0a"/>
<path d="M379.6 246.4 C382.08 246.62 389.1 247.27 394.5 247.7 C399.9 248.13 406.88 248.57 412 249 C417.12 249.43 422.2 250 425.2 250.3 C428.2 250.6 428.4 250.65 430 250.8 C431.6 250.95 433.4 251 434.8 251.2 C436.2 251.4 437.05 251.52 438.4 252 C439.75 252.48 441.35 253.35 442.9 254.1 C444.45 254.85 446.1 255.63 447.7 256.5 C449.3 257.37 450.9 258.42 452.5 259.3 C454.1 260.18 455.7 261 457.3 261.8 C458.9 262.6 460.5 263.42 462.1 264.1 C463.7 264.78 465.28 265.33 466.9 265.9 C468.52 266.47 470.18 267.02 471.8 267.5 C473.42 267.98 474.77 268.35 476.6 268.8 C478.43 269.25 481.77 269.97 482.8 270.2" fill="none" stroke="#0a820a" stroke-width="2.0" stroke-linejoin="round" stroke-linecap="round"/>
<path d="M379.8 401.6 C381 401.42 384.28 400.87 387 400.5 C389.72 400.13 393.08 399.82 396.1 399.4 C399.12 398.98 402.4 398.5 405.1 398 C407.8 397.5 410.35 396.97 412.3 396.4 C414.25 395.83 415.43 395.38 416.8 394.6 C418.17 393.82 419.28 392.78 420.5 391.7 C421.72 390.62 422.98 389.62 424.1 388.1 C425.22 386.58 426.3 384.57 427.2 382.6 C428.1 380.63 428.93 378.07 429.5 376.3 C430.07 374.53 430 374.78 430.6 372 C431.2 369.22 432.35 363.92 433.1 359.6 C433.85 355.28 434.47 350.83 435.1 346.1 C435.73 341.37 436.45 334.97 436.9 331.2 C437.35 327.43 437.42 325.25 437.8 323.5 C438.18 321.75 438.75 320.77 439.2 320.7 C439.65 320.63 440.05 321.12 440.5 323.1 C440.95 325.08 441.33 328.77 441.9 332.6 C442.47 336.43 443.12 341.6 443.9 346.1 C444.68 350.6 445.83 355.45 446.6 359.6 C447.37 363.75 447.95 368.07 448.5 371 C449.05 373.93 449.37 374.8 449.9 377.2 C450.43 379.6 451.02 382.83 451.7 385.4 C452.38 387.97 453.08 390.35 454 392.6 C454.92 394.85 456.07 397.32 457.2 398.9 C458.33 400.48 459.6 401.12 460.8 402.1 C462 403.08 463.05 404.05 464.4 404.8 C465.75 405.55 467.25 406.12 468.9 406.6 C470.55 407.08 471.97 407.45 474.3 407.7 C476.63 407.95 481.47 408.03 482.9 408.1" fill="none" stroke="#0a820a" stroke-width="2.0" stroke-linejoin="round" stroke-linecap="round"/>
<line x1="438.6" y1="105.8" x2="438.6" y2="376.5" stroke="#ff2a2a" stroke-width="1" stroke-dasharray="2.2 1.2"/>
<path d="M556.8 100.3 C557.38 100.43 558.42 100.92 560.3 101.1 C562.18 101.28 565.33 101.28 568.1 101.4 C570.87 101.52 573.97 101.65 576.9 101.8 C579.83 101.95 582.78 102.12 585.7 102.3 C588.62 102.48 591.48 102.77 594.4 102.9 C597.32 103.03 601.1 102.97 603.2 103.1 C605.3 103.23 605.73 103.45 607 103.7 C608.27 103.95 609.2 104.22 610.8 104.6 C612.4 104.98 614.98 105.58 616.6 106 C618.22 106.42 619.37 106.6 620.5 107.1 C621.63 107.6 622.5 108.3 623.4 109 C624.3 109.7 625 110.7 625.9 111.3 C626.8 111.9 627.75 112.47 628.8 112.6 C629.85 112.73 631.15 112.47 632.2 112.1 C633.25 111.73 634.13 111.17 635.1 110.4 C636.07 109.63 637.03 108.63 638 107.5 C638.97 106.37 639.93 104.98 640.9 103.6 C641.87 102.22 642.83 100.73 643.8 99.2 C644.77 97.67 645.82 96.02 646.7 94.4 C647.58 92.78 648.37 90.95 649.1 89.5 C649.83 88.05 650.5 87.38 651.1 85.7 C651.7 84.02 652.43 80.45 652.7 79.4" fill="none" stroke="#6a0202" stroke-width="1.4" stroke-linejoin="round" stroke-linecap="round"/>
<path d="M652.7 79.4 L654.4 55.9 L656.2 43.5" fill="none" stroke="#6a0202" stroke-width="1.3" stroke-linejoin="round" stroke-linecap="round" />
<circle cx="556.8" cy="100.3" r="1.65" fill="#6a0202"/><circle cx="558.8" cy="100.87" r="1.65" fill="#6a0202"/><circle cx="560.8" cy="101.14" r="1.65" fill="#6a0202"/><circle cx="562.8" cy="101.24" r="1.65" fill="#6a0202"/><circle cx="564.8" cy="101.3" r="1.65" fill="#6a0202"/><circle cx="566.8" cy="101.35" r="1.65" fill="#6a0202"/><circle cx="568.8" cy="101.43" r="1.65" fill="#6a0202"/><circle cx="570.8" cy="101.52" r="1.65" fill="#6a0202"/><circle cx="572.8" cy="101.6" r="1.65" fill="#6a0202"/><circle cx="574.8" cy="101.7" r="1.65" fill="#6a0202"/><circle cx="576.8" cy="101.79" r="1.65" fill="#6a0202"/><circle cx="578.8" cy="101.9" r="1.65" fill="#6a0202"/><circle cx="580.8" cy="102.01" r="1.65" fill="#6a0202"/><circle cx="582.8" cy="102.12" r="1.65" fill="#6a0202"/><circle cx="584.8" cy="102.24" r="1.65" fill="#6a0202"/><circle cx="586.8" cy="102.37" r="1.65" fill="#6a0202"/><circle cx="588.8" cy="102.52" r="1.65" fill="#6a0202"/><circle cx="590.8" cy="102.68" r="1.65" fill="#6a0202"/><circle cx="592.8" cy="102.81" r="1.65" fill="#6a0202"/><circle cx="594.8" cy="102.92" r="1.65" fill="#6a0202"/><circle cx="596.8" cy="102.97" r="1.65" fill="#6a0202"/><circle cx="598.8" cy="103" r="1.65" fill="#6a0202"/><circle cx="600.8" cy="103.02" r="1.65" fill="#6a0202"/><circle cx="602.8" cy="103.08" r="1.65" fill="#6a0202"/><circle cx="604.8" cy="103.25" r="1.65" fill="#6a0202"/><circle cx="606.8" cy="103.66" r="1.65" fill="#6a0202"/><circle cx="608.8" cy="104.11" r="1.65" fill="#6a0202"/><circle cx="610.8" cy="104.6" r="1.65" fill="#6a0202"/><circle cx="612.8" cy="105.07" r="1.65" fill="#6a0202"/><circle cx="614.8" cy="105.55" r="1.65" fill="#6a0202"/><circle cx="616.8" cy="106.05" r="1.65" fill="#6a0202"/><circle cx="618.8" cy="106.54" r="1.65" fill="#6a0202"/><circle cx="620.8" cy="107.24" r="1.65" fill="#6a0202"/><circle cx="622.8" cy="108.53" r="1.65" fill="#6a0202"/><circle cx="624.8" cy="110.34" r="1.65" fill="#6a0202"/><circle cx="626.8" cy="111.86" r="1.65" fill="#6a0202"/><circle cx="628.8" cy="112.6" r="1.65" fill="#6a0202"/><circle cx="630.8" cy="112.48" r="1.65" fill="#6a0202"/><circle cx="632.8" cy="111.86" r="1.65" fill="#6a0202"/><circle cx="634.8" cy="110.63" r="1.65" fill="#6a0202"/><circle cx="636.8" cy="108.83" r="1.65" fill="#6a0202"/><circle cx="638.8" cy="106.51" r="1.65" fill="#6a0202"/><circle cx="640.8" cy="103.74" r="1.65" fill="#6a0202"/><circle cx="642.8" cy="100.77" r="1.65" fill="#6a0202"/><circle cx="644.8" cy="97.61" r="1.65" fill="#6a0202"/><circle cx="646.8" cy="94.21" r="1.65" fill="#6a0202"/><circle cx="648.8" cy="90.11" r="1.65" fill="#6a0202"/><circle cx="650.8" cy="86.45" r="1.65" fill="#6a0202"/>
<circle cx="652.7" cy="79.4" r="1.45" fill="#6a0202"/><circle cx="654.4" cy="55.9" r="1.45" fill="#6a0202"/><circle cx="656.2" cy="43.5" r="1.45" fill="#6a0202"/>
<path d="M556.6 259.4 C558.93 259.58 565.65 260.17 570.6 260.5 C575.55 260.83 581.08 261.12 586.3 261.4 C591.52 261.68 597.22 261.93 601.9 262.2 C606.58 262.47 610.75 262.68 614.4 263 C618.05 263.32 621.33 263.8 623.8 264.1 C626.27 264.4 627.12 264.28 629.2 264.8 C631.28 265.32 633.82 266.48 636.3 267.2 C638.78 267.92 641.5 268.5 644.1 269.1 C646.7 269.7 650.08 270.43 651.9 270.8 C653.72 271.17 653.65 271.2 655 271.3 C656.35 271.4 659.17 271.38 660 271.4" fill="none" stroke="#980848" stroke-width="2.0" stroke-linejoin="round" stroke-linecap="round"/>
<path d="M556.5 406.8 C557.27 406.63 558.8 406.05 561.1 405.8 C563.4 405.55 567.07 405.47 570.3 405.3 C573.53 405.13 577.08 404.97 580.5 404.8 C583.92 404.63 587.9 404.47 590.8 404.3 C593.7 404.13 595.35 403.9 597.9 403.8 C600.45 403.7 604.22 403.88 606.1 403.7 C607.98 403.52 608.02 403.42 609.2 402.7 C610.38 401.98 611.85 400.47 613.2 399.4 C614.55 398.33 616.18 397.32 617.3 396.3 C618.42 395.28 619.22 394.65 619.9 393.3 C620.58 391.95 620.98 390.08 621.4 388.2 C621.82 386.32 621.95 384.28 622.4 382 C622.85 379.72 623.55 379.43 624.1 374.5 C624.65 369.57 625.25 358.72 625.7 352.4 C626.15 346.08 626.47 341.35 626.8 336.6 C627.13 331.85 627.43 327.2 627.7 323.9 C627.97 320.6 628.13 318.72 628.4 316.8 C628.67 314.88 628.97 312.52 629.3 312.4 C629.63 312.28 629.95 313.38 630.4 316.1 C630.85 318.82 631.47 323.97 632 328.7 C632.53 333.43 633.07 339.23 633.6 344.5 C634.13 349.77 634.77 356.05 635.2 360.3 C635.63 364.55 635.88 366.8 636.2 370 C636.52 373.2 636.8 376.35 637.1 379.5 C637.4 382.65 637.68 385.9 638 388.9 C638.32 391.9 638.6 395.13 639 397.5 C639.4 399.87 639.85 401.6 640.4 403.1 C640.95 404.6 641.5 405.65 642.3 406.5 C643.1 407.35 644.1 407.87 645.2 408.2 C646.3 408.53 646.93 408.45 648.9 408.5 C650.87 408.55 655.65 408.5 657 408.5" fill="none" stroke="#980848" stroke-width="2.1" stroke-linejoin="round" stroke-linecap="round"/>
<line x1="629.3" y1="100.2" x2="629.3" y2="370.5" stroke="#ff2a2a" stroke-width="1" stroke-dasharray="2.2 1.2"/>
</svg>
</body></html>
